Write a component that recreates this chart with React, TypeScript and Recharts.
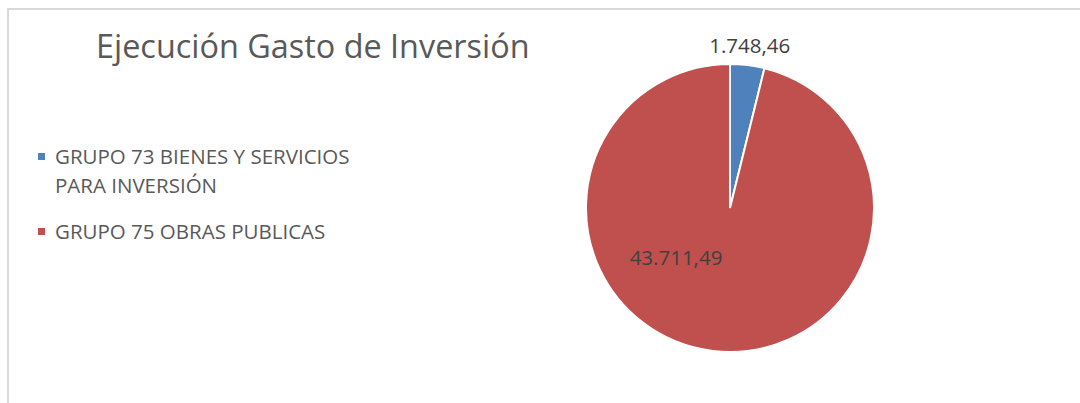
import React from 'react';
import { PieChart, Pie, Cell, Legend } from 'recharts';

// Datos del gráfico
const CATEGORIES = ['GRUPO 73 BIENES Y SERVICIOS PARA INVERSIÓN', 'GRUPO 75 OBRAS PUBLICAS'];
const VALUES = [1748.46, 43711.49];
const VALUE_LABELS = ['1.748,46', '43.711,49'];
const COLORS = ['#4F81BD', '#C0504D'];

const TITLE = 'Ejecución Gasto de Inversión';
const FONT = '"Open Sans", "Noto Sans", sans-serif';

const data = CATEGORIES.map((name, i) => ({ name, value: VALUES[i], label: VALUE_LABELS[i] }));

const RADIAN = Math.PI / 180;

// eslint-disable-next-line @typescript-eslint/no-explicit-any
const renderLabel = (props: any) => {
  const { cx, cy, midAngle, outerRadius, index } = props;
  let x: number;
  let y: number;
  if (index === 0) {
    // etiqueta exterior (slice pequeño)
    const r = outerRadius + 20;
    x = cx + r * Math.cos(-midAngle * RADIAN);
    y = cy + r * Math.sin(-midAngle * RADIAN);
  } else {
    // etiqueta interior tipo "best fit"
    x = cx - outerRadius * 0.375;
    y = cy + outerRadius * 0.34;
  }
  return (
    <text
      x={x}
      y={y}
      fill="#404040"
      fontSize={20.5}
      fontFamily={FONT}
      textAnchor="middle"
      dominantBaseline="central"
    >
      {VALUE_LABELS[index]}
    </text>
  );
};

const LegendContent = () => (
  <div style={{ fontFamily: FONT, color: '#595959', fontSize: 20.5, lineHeight: '29px' }}>
    {data.map((d, i) => (
      <div key={d.name} style={{ display: 'flex', alignItems: 'flex-start', marginBottom: 17 }}>
        <span
          style={{
            display: 'inline-block',
            width: 7,
            height: 7,
            background: COLORS[i],
            marginTop: 11,
            marginRight: 10,
            flexShrink: 0,
          }}
        />
        <span style={{ width: 315 }}>{d.name}</span>
      </div>
    ))}
  </div>
);

export default function App() {
  return (
    <div
      style={{
        position: 'fixed',
        left: 0,
        top: 0,
        width: 1080,
        height: 403,
        background: '#fff',
        overflow: 'hidden',
      }}
    >
      <div
        style={{
          position: 'absolute',
          left: 7,
          top: 8,
          right: -10,
          bottom: -10,
          borderTop: '2px solid #d9d9d9',
          borderLeft: '2px solid #d9d9d9',
        }}
      />
      <div
        style={{
          position: 'absolute',
          left: 96,
          top: 23,
          fontFamily: FONT,
          fontSize: 32.4,
          lineHeight: 'normal',
          color: '#595959',
          whiteSpace: 'nowrap',
        }}
      >
        {TITLE}
      </div>
      <PieChart width={1080} height={403} margin={{ top: 0, right: 0, bottom: 0, left: 0 }}>
        <Pie
          data={data}
          dataKey="value"
          nameKey="name"
          cx={730}
          cy={208}
          outerRadius={144}
          startAngle={90}
          endAngle={-270}
          stroke="#ffffff"
          strokeWidth={2}
          label={renderLabel}
          labelLine={false}
          isAnimationActive={false}
        >
          {data.map((entry, index) => (
            <Cell key={`cell-${index}`} fill={COLORS[index]} />
          ))}
        </Pie>
        <Legend
          layout="vertical"
          content={<LegendContent />}
          wrapperStyle={{ position: 'absolute', left: 38, top: 142, width: 370 }}
        />
      </PieChart>
    </div>
  );
}
